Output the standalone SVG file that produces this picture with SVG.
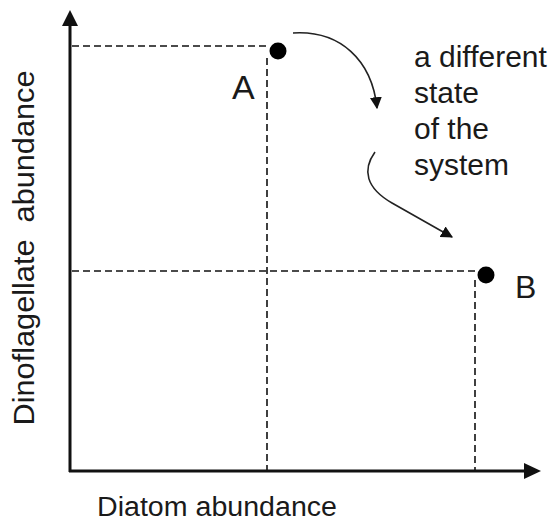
<svg xmlns="http://www.w3.org/2000/svg" width="555" height="524" viewBox="0 0 555 524">
<defs>
<marker id="ah" viewBox="0 0 10 10" refX="9" refY="5" markerWidth="12" markerHeight="12" markerUnits="userSpaceOnUse" orient="auto">
<path d="M0,0 L10,5 L0,10 z" fill="#111"/>
</marker>
</defs>
<style>
.t{font-family:"Liberation Sans",Arial,sans-serif;fill:#1a1a1a}
.dash{stroke:#111;stroke-width:1.6;stroke-dasharray:7 4;fill:none}
.axis{stroke:#111;stroke-width:3;fill:none}
.curve{stroke:#222;stroke-width:1.6;fill:none}
</style>
<rect width="555" height="524" fill="#fff"/>
<g id="axes">
<line class="axis" x1="70" y1="472" x2="70" y2="22"/>
<path d="M70,10 L62,26 L78,26 z" fill="#111"/>
<line class="axis" x1="69" y1="471" x2="528" y2="471"/>
<path d="M541,471 L524,463 L524,479 z" fill="#111"/>
</g>
<g id="guides">
<line class="dash" x1="72" y1="46" x2="268" y2="46"/>
<line class="dash" x1="267" y1="58" x2="267" y2="470"/>
<line class="dash" x1="72" y1="271" x2="476" y2="271"/>
<line class="dash" x1="475" y1="280" x2="475" y2="470"/>
</g>
<g id="nodeA">
<circle cx="278" cy="51" r="8.5" fill="#000"/>
<text class="t" x="232" y="99" font-size="34">A</text>
</g>
<g id="nodeB">
<circle cx="486" cy="275" r="8.5" fill="#000"/>
<text class="t" x="515" y="298" font-size="32">B</text>
</g>
<g id="connectors">
<path class="curve" d="M293,33 C340,30 372,60 377,108" marker-end="url(#ah)"/>
<path class="curve" d="M375,152 C362,170 366,188 392,203 Q422,220 452,237" marker-end="url(#ah)"/>
</g>
<g id="label">
<text class="t" font-size="30">
<tspan x="414" y="67">a different</tspan>
<tspan x="414" y="103">state</tspan>
<tspan x="414" y="139">of the</tspan>
<tspan x="414" y="175">system</tspan>
</text>
</g>
<text class="t" x="97" y="516" font-size="27" textLength="240" lengthAdjust="spacingAndGlyphs">Diatom abundance</text>
<text class="t" font-size="30" text-anchor="middle" transform="translate(34,248) rotate(-90)" xml:space="preserve" textLength="355" lengthAdjust="spacingAndGlyphs">Dinoflagellate  abundance</text>
</svg>
